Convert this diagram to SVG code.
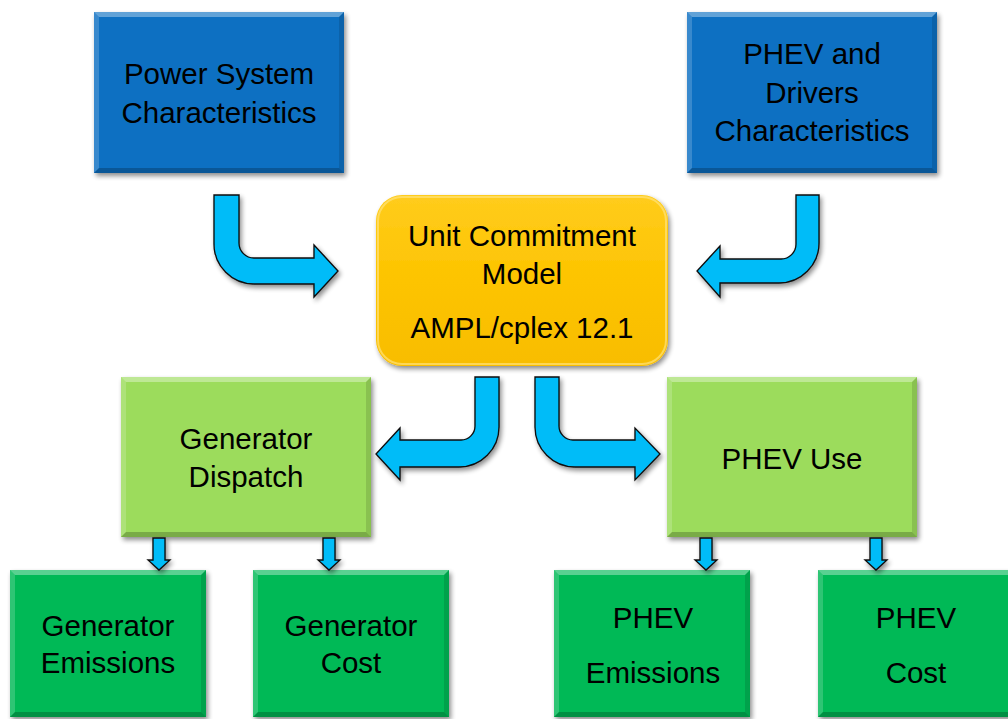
<svg xmlns="http://www.w3.org/2000/svg" width="1008" height="719" viewBox="0 0 1008 719">
<defs>
<style>
.t{font-family:"Liberation Sans",Arial,sans-serif;font-size:29.5px;fill:#000;text-anchor:middle}
.blue{fill:#0a70c2}
.lg{fill:#9cdc5b}
.dg{fill:#06b957}
.hi{fill:#fff;opacity:.35}
.hs{fill:#fff;opacity:.18}
.lo{fill:#000;opacity:.22}
.ls{fill:#000;opacity:.12}
.arr{fill:#02bcf8;stroke:#0a0a0a;stroke-width:1.3;stroke-linejoin:miter}
</style>
<filter id="sh" x="-10%" y="-10%" width="125%" height="125%">
<feGaussianBlur in="SourceAlpha" stdDeviation="2.5"/>
<feOffset dx="2" dy="3" result="b"/>
<feComponentTransfer><feFuncA type="linear" slope="0.45"/></feComponentTransfer>
<feMerge><feMergeNode/><feMergeNode in="SourceGraphic"/></feMerge>
</filter>
<linearGradient id="yg" x1="0" y1="0" x2="0" y2="1">
<stop offset="0" stop-color="#ffcc1c"/>
<stop offset="0.5" stop-color="#fdc400"/>
<stop offset="1" stop-color="#f8bd00"/>
</linearGradient>
</defs>

<g id="power-system">
<g filter="url(#sh)"><rect class="blue" x="94" y="12" width="250" height="161"/></g>
<polygon class="hi" points="94,12 344,12 339,17 99,17"/>
<polygon class="hs" points="94,12 99,17 99,168 94,173"/>
<polygon class="lo" points="94,173 99,168 339,168 344,173"/>
<polygon class="ls" points="344,12 344,173 339,168 339,17"/>
<text class="t" x="219" y="84">Power System</text>
<text class="t" x="219" y="123">Characteristics</text>
</g>

<g id="phev-drivers">
<g filter="url(#sh)"><rect class="blue" x="687" y="12" width="250" height="161"/></g>
<polygon class="hi" points="687,12 937,12 932,17 692,17"/>
<polygon class="hs" points="687,12 692,17 692,168 687,173"/>
<polygon class="lo" points="687,173 692,168 932,168 937,173"/>
<polygon class="ls" points="937,12 937,173 932,168 932,17"/>
<text class="t" x="812" y="64">PHEV and</text>
<text class="t" x="812" y="103">Drivers</text>
<text class="t" x="812" y="141">Characteristics</text>
</g>

<g id="unit-commitment">
<g filter="url(#sh)"><rect x="376" y="195" width="292" height="171" rx="26" fill="url(#yg)"/></g>
<rect x="378" y="197" width="288" height="167" rx="24" fill="none" stroke="#ffe27a" stroke-width="2" opacity=".7"/>
<text class="t" x="522" y="246">Unit Commitment</text>
<text class="t" x="522" y="284">Model</text>
<text class="t" x="522" y="338">AMPL/cplex 12.1</text>
</g>

<g id="generator-dispatch">
<g filter="url(#sh)"><rect class="lg" x="121" y="377" width="250" height="160"/></g>
<polygon class="hi" points="121,377 371,377 366,382 126,382"/>
<polygon class="hs" points="121,377 126,382 126,532 121,537"/>
<polygon class="lo" points="121,537 126,532 366,532 371,537"/>
<polygon class="ls" points="371,377 371,537 366,532 366,382"/>
<text class="t" x="246" y="449">Generator</text>
<text class="t" x="246" y="487">Dispatch</text>
</g>

<g id="phev-use">
<g filter="url(#sh)"><rect class="lg" x="667" y="377" width="250" height="160"/></g>
<polygon class="hi" points="667,377 917,377 912,382 672,382"/>
<polygon class="hs" points="667,377 672,382 672,532 667,537"/>
<polygon class="lo" points="667,537 672,532 912,532 917,537"/>
<polygon class="ls" points="917,377 917,537 912,532 912,382"/>
<text class="t" x="792" y="469">PHEV Use</text>
</g>

<g id="generator-emissions">
<g filter="url(#sh)"><rect class="dg" x="10" y="570" width="196" height="147"/></g>
<polygon class="hi" points="10,570 206,570 201,575 15,575"/>
<polygon class="hs" points="10,570 15,575 15,712 10,717"/>
<polygon class="lo" points="10,717 15,712 201,712 206,717"/>
<polygon class="ls" points="206,570 206,717 201,712 201,575"/>
<text class="t" x="108" y="636">Generator</text>
<text class="t" x="108" y="673">Emissions</text>
</g>

<g id="generator-cost">
<g filter="url(#sh)"><rect class="dg" x="253" y="570" width="196" height="147"/></g>
<polygon class="hi" points="253,570 449,570 444,575 258,575"/>
<polygon class="hs" points="253,570 258,575 258,712 253,717"/>
<polygon class="lo" points="253,717 258,712 444,712 449,717"/>
<polygon class="ls" points="449,570 449,717 444,712 444,575"/>
<text class="t" x="351" y="636">Generator</text>
<text class="t" x="351" y="673">Cost</text>
</g>

<g id="phev-emissions">
<g filter="url(#sh)"><rect class="dg" x="554" y="570" width="196" height="147"/></g>
<polygon class="hi" points="554,570 750,570 745,575 559,575"/>
<polygon class="hs" points="554,570 559,575 559,712 554,717"/>
<polygon class="lo" points="554,717 559,712 745,712 750,717"/>
<polygon class="ls" points="750,570 750,717 745,712 745,575"/>
<text class="t" x="653" y="628">PHEV</text>
<text class="t" x="653" y="683">Emissions</text>
</g>

<g id="phev-cost">
<g filter="url(#sh)"><rect class="dg" x="818" y="570" width="196" height="147"/></g>
<polygon class="hi" points="818,570 1014,570 1009,575 823,575"/>
<polygon class="hs" points="818,570 823,575 823,712 818,717"/>
<polygon class="lo" points="818,717 823,712 1009,712 1014,717"/>
<text class="t" x="916" y="628">PHEV</text>
<text class="t" x="916" y="683">Cost</text>
</g>

<g id="connectors" filter="url(#sh)">
<path class="arr" d="M214,195 L214,244 A40,40 0 0 0 254,284 L314,284 L314,297 L338,271 L314,245 L314,258 L254,258 A15,15 0 0 1 239,243 L239,195 Z"/>
<path class="arr" d="M819,195 L819,243 A40,40 0 0 1 779,283 L720,283 L720,297 L697,271 L720,246 L720,259 L781,259 A15,15 0 0 0 796,244 L796,195 Z"/>
<path class="arr" d="M499,377 L499,427 A40,40 0 0 1 459,467 L400,467 L400,480 L376,454 L400,428 L400,440 L461,440 A14,14 0 0 0 475,426 L475,377 Z"/>
<path class="arr" d="M535,377 L535,427 A40,40 0 0 0 575,467 L635,467 L635,480 L660,454 L635,428 L635,440 L573,440 A14,14 0 0 1 559,426 L559,377 Z"/>
<path class="arr" d="M153,538 L165,538 L165,560 L170,560 L159,570 L148,560 L153,560 Z"/>
<path class="arr" d="M323,538 L335,538 L335,560 L340,560 L329,570 L318,560 L323,560 Z"/>
<path class="arr" d="M700,538 L712,538 L712,560 L717,560 L706,570 L695,560 L700,560 Z"/>
<path class="arr" d="M870,538 L882,538 L882,560 L887,560 L876,570 L865,560 L870,560 Z"/>
</g>
</svg>
